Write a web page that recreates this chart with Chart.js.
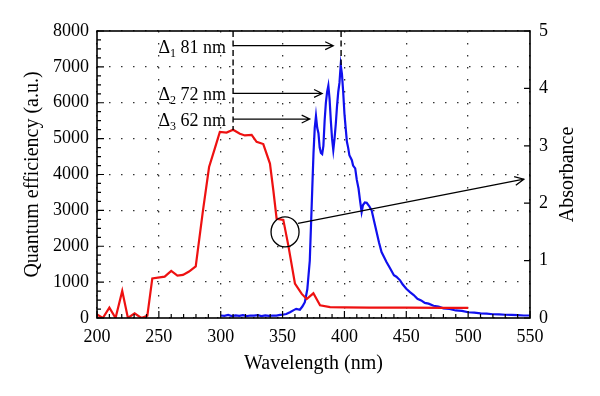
<!DOCTYPE html>
<html>
<head>
<meta charset="utf-8">
<script src="https://cdn.jsdelivr.net/npm/chart.js@4/dist/chart.umd.min.js"></script>
<style>
  html, body { margin: 0; padding: 0; background: #fff; }
  #wrap { width: 600px; height: 396px; position: relative; }
</style>
</head>
<body>
<div id="wrap"><canvas id="spectra"></canvas></div>
<script>
// absorbance spectrum (right axis)
const redWavelength = [200, 204.7, 210, 215, 220.4, 225, 230.4, 235.8, 240.7, 244.7, 254.7, 260, 265, 269.5, 274.4, 279.8,
  285.7, 290.6, 295.2, 299.3, 304.7, 310, 315.5, 319.5, 325, 329, 334.4, 339.8, 342.5, 345.2, 350.6, 354.6,
  360, 365.5, 369.5, 374.9, 380.3, 388.4, 400, 420, 450, 480, 500];
const redAbsorbance = [0.06, 0, 0.18, 0, 0.47, 0, 0.08, 0, 0.04, 0.69, 0.72, 0.82, 0.74, 0.75, 0.81, 0.90,
  1.88, 2.63, 2.95, 3.24, 3.23, 3.28, 3.21, 3.18, 3.19, 3.07, 3.03, 2.69, 2.23, 1.73, 1.71, 1.27,
  0.60, 0.42, 0.33, 0.43, 0.22, 0.19, 0.185, 0.18, 0.18, 0.178, 0.175];

// emission spectrum (left axis)
const blueWavelength = [300, 303, 306, 309, 312, 315, 318, 321, 324, 327, 330, 333, 336, 339, 342, 345, 348, 350, 353, 356,
  359, 361, 364, 366, 368, 370, 372, 373, 374, 375, 376, 377, 378, 379, 380, 381, 382, 383, 384, 385, 386, 387,
  388, 389, 390, 391, 392, 393, 394, 395, 396, 397, 398, 399, 400, 401, 402, 403, 404, 406, 407, 408.7, 410,
  411.4, 412.6, 413.9, 415, 416.5, 418, 420, 422, 424, 426, 428, 430, 432, 434, 437, 440, 442, 445, 447, 450,
  453, 456, 459, 462, 465, 468, 472, 476, 480, 485, 490, 495, 500, 505, 510, 515, 520, 525, 530, 535, 540, 545, 550];
const blueEfficiency = [70, 60, 85, 55, 75, 60, 80, 55, 70, 65, 80, 55, 75, 60, 70, 65, 85, 90, 110, 160,
  220, 255, 230, 320, 440, 800, 1600, 2600, 3600, 4590, 5300, 5630, 5300, 5150, 4750, 4600, 4570, 4800, 5500, 6000, 6300, 6475,
  6100, 5500, 5000, 4680, 5000, 5400, 5900, 6300, 6560, 7050, 6800, 6300, 5700, 5300, 4910, 4750, 4540, 4400, 4250, 4170, 3850,
  3610, 3280, 2955, 3150, 3220, 3210, 3120, 3000, 2700, 2400, 2100, 1840, 1700, 1560, 1380, 1190, 1150, 1050, 940, 815,
  720, 640, 535, 490, 420, 400, 340, 320, 270, 250, 210, 200, 160, 150, 130, 120, 105, 100, 90, 85, 80, 70, 70];

const xTickValues = [200, 250, 300, 350, 400, 450, 500, 550];
const yTickValues = [0, 1000, 2000, 3000, 4000, 5000, 6000, 7000, 8000];
const y1TickValues = [0, 1, 2, 3, 4, 5];

// Stokes shift annotations
const shiftStart = 310;
const shiftEnds = [391, 382, 372];
const shiftLevels = [7590, 6260, 5545];
const shiftSubs = ["1", "2", "3"];
const shiftTexts = ["81 nm", "72 nm", "62 nm"];
const peakLines = [[310, 5240], [397.3, 7050]];
const circleAt = [352, 2400];
const pointerFrom = [362.5, 2640];
const pointerTo = [545, 3870];

const SERIF = "'Liberation Serif', 'DejaVu Serif', serif";

function toPoints(xs, ys) {
    return xs.map((v, i) => ({ x: v, y: ys[i] }));
}

function fixTicks(values) {
    return scale => { scale.ticks = values.map(v => ({ value: v })); };
}

function arrow(ctx, x0, y0, x1, y1, head) {
    const ang = Math.atan2(y1 - y0, x1 - x0);
    ctx.beginPath();
    ctx.moveTo(x0, y0);
    ctx.lineTo(x1, y1);
    ctx.moveTo(x1 - head * Math.cos(ang - 0.45), y1 - head * Math.sin(ang - 0.45));
    ctx.lineTo(x1, y1);
    ctx.lineTo(x1 - head * Math.cos(ang + 0.45), y1 - head * Math.sin(ang + 0.45));
    ctx.stroke();
}

const decorations = {
    id: "decorations",
    afterDatasetsDraw(chart) {
        const { ctx, chartArea: a, scales: { x, y, y1 } } = chart;
        ctx.save();
        ctx.strokeStyle = "#000";
        ctx.fillStyle = "#000";

        // frame
        ctx.lineWidth = 1.6;
        ctx.strokeRect(a.left, a.top, a.right - a.left, a.bottom - a.top);

        // inward ticks
        ctx.lineWidth = 1.2;
        ctx.beginPath();
        for (let v = 200; v <= 550; v += 10) {
            const px = x.getPixelForValue(v);
            const len = v % 50 === 0 ? 7 : 4;
            ctx.moveTo(px, a.bottom);
            ctx.lineTo(px, a.bottom - len);
        }
        for (let v = 0; v <= 8000; v += 250) {
            const py = y.getPixelForValue(v);
            const len = v % 1000 === 0 ? 7 : 4;
            ctx.moveTo(a.left, py);
            ctx.lineTo(a.left + len, py);
        }
        for (let v = 0; v <= 5; v += 1) {
            const py = y1.getPixelForValue(v);
            ctx.moveTo(a.right, py);
            ctx.lineTo(a.right - 6, py);
        }
        ctx.stroke();

        // right axis title, reading bottom to top
        ctx.save();
        ctx.translate(568, (a.top + a.bottom) / 2);
        ctx.rotate(-Math.PI / 2);
        ctx.font = "20px " + SERIF;
        ctx.textAlign = "center";
        ctx.textBaseline = "middle";
        ctx.fillText("Absorbance", 0, 0);
        ctx.restore();

        // dashed lines to the peaks
        ctx.lineWidth = 1.4;
        ctx.setLineDash([6, 3.5]);
        peakLines.forEach(([wl, val]) => {
            const px = x.getPixelForValue(wl);
            ctx.beginPath();
            ctx.moveTo(px, a.top);
            ctx.lineTo(px, y.getPixelForValue(val));
            ctx.stroke();
        });
        ctx.setLineDash([]);

        // shift arrows and labels
        ctx.lineWidth = 1.2;
        const startPx = x.getPixelForValue(shiftStart);
        shiftEnds.forEach((end, i) => {
            const py = y.getPixelForValue(shiftLevels[i]);
            arrow(ctx, startPx, py, x.getPixelForValue(end), py, 9);

            ctx.font = "18px " + SERIF;
            const wDelta = ctx.measureText("\u0394").width;
            const wText = ctx.measureText(" " + shiftTexts[i]).width;
            ctx.font = "12px " + SERIF;
            const wSub = ctx.measureText(shiftSubs[i]).width;
            let tx = startPx - 7 - (wDelta + wSub + wText);
            const base = py + 7;
            ctx.textBaseline = "alphabetic";
            ctx.textAlign = "left";
            ctx.font = "18px " + SERIF;
            ctx.fillText("\u0394", tx, base);
            tx += wDelta;
            ctx.font = "12px " + SERIF;
            ctx.fillText(shiftSubs[i], tx, base + 4);
            tx += wSub;
            ctx.font = "18px " + SERIF;
            ctx.fillText(" " + shiftTexts[i], tx, base);
        });

        // circle marking the absorbance curve and pointer to its axis
        ctx.lineWidth = 1.3;
        ctx.beginPath();
        ctx.ellipse(x.getPixelForValue(circleAt[0]), y.getPixelForValue(circleAt[1]), 14, 15, 0, 0, Math.PI * 2);
        ctx.stroke();
        arrow(ctx,
            x.getPixelForValue(pointerFrom[0]), y.getPixelForValue(pointerFrom[1]),
            x.getPixelForValue(pointerTo[0]), y.getPixelForValue(pointerTo[1]), 10);

        ctx.restore();
    }
};

const plainTicks = { color: "#000", font: { family: SERIF, size: 18 }, callback: v => String(v) };

new Chart(document.getElementById("spectra"), {
    type: "line",
    data: {
        datasets: [{
            label: "Absorbance",
            data: toPoints(redWavelength, redAbsorbance),
            yAxisID: "y1",
            borderColor: "#ee1111",
            borderWidth: 2.2,
            pointRadius: 0,
            tension: 0
        }, {
            label: "Quantum efficiency",
            data: toPoints(blueWavelength, blueEfficiency),
            yAxisID: "y",
            borderColor: "#1010ee",
            borderWidth: 2.2,
            pointRadius: 0,
            tension: 0
        }]
    },
    options: {
        responsive: true,
        maintainAspectRatio: false,
        animation: false,
        layout: { padding: { top: 31, left: 0, right: 0, bottom: 0 } },
        plugins: { legend: { display: false }, tooltip: { enabled: false } },
        scales: {
            x: {
                type: "linear",
                min: 200,
                max: 550,
                afterBuildTicks: fixTicks(xTickValues),
                afterFit: s => { s.height = 78; },
                grid: { color: "#333", lineWidth: 1.3, drawTicks: false },
                border: { display: false, dash: [1.5, 10.5] },
                ticks: { ...plainTicks, padding: 8, maxRotation: 0 },
                title: { display: true, text: "Wavelength (nm)", color: "#000", padding: { bottom: 20 }, font: { family: SERIF, size: 20 } }
            },
            y: {
                position: "left",
                min: 0,
                max: 8000,
                afterBuildTicks: fixTicks(yTickValues),
                afterFit: s => { s.width = 97; },
                grid: { color: "#333", lineWidth: 1.3, drawTicks: false },
                border: { display: false, dash: [1.5, 10.5] },
                ticks: { ...plainTicks, padding: 8 },
                title: { display: true, text: "Quantum efficiency (a.u.)", color: "#000", padding: { top: 21 }, font: { family: SERIF, size: 20 } }
            },
            y1: {
                position: "right",
                min: 0,
                max: 5,
                afterBuildTicks: fixTicks(y1TickValues),
                afterFit: s => { s.width = 70; },
                grid: { display: false, drawTicks: false },
                border: { display: false },
                ticks: { ...plainTicks, padding: 9 },
                title: { display: false }
            }
        }
    },
    plugins: [decorations]
});
</script>
</body>
</html>
